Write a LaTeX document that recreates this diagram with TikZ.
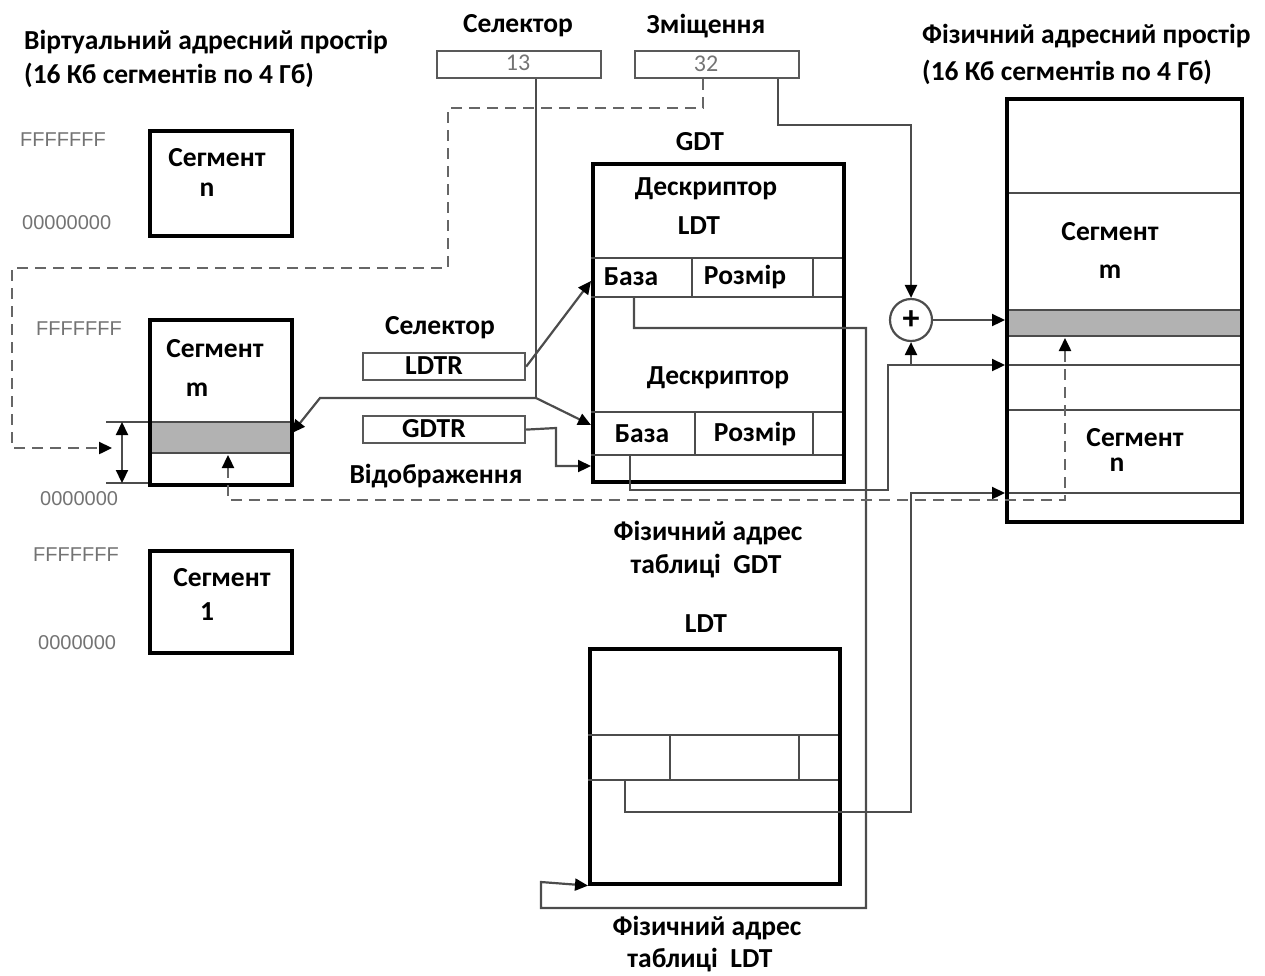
\documentclass[tikz,border=0pt]{standalone}
\usepackage{fontspec}
\setmainfont{Carlito}
\newfontfamily\addrfont{Liberation Sans}
\usetikzlibrary{arrows.meta}
\begin{document}
\begin{tikzpicture}[x=1pt,y=-1pt,
 lbl/.style={font=\bfseries\fontsize{27.5}{30}\selectfont, inner sep=0pt},
 addr/.style={font=\addrfont\fontsize{20}{22}\selectfont, text=black!55, inner sep=0pt, anchor=west},
 val/.style={font=\fontsize{24}{26}\selectfont, text=black!55, inner sep=0pt},
 bigbox/.style={draw, line width=3.6pt, inner sep=0pt, anchor=north west},
 regbox/.style={draw=black!65, line width=2.2pt, inner sep=0pt, anchor=north west},
 ln/.style={draw=black!70, line width=2.2pt},
 tip/.tip={Triangle[length=13pt,width=12pt,color=black]},
 arr/.style={ln, -tip},
 dsh/.style={draw=black!60, dash pattern=on 11pt off 7pt, line width=2.4pt},
 darr/.style={dsh, -tip},
]
\useasboundingbox (0,0) rectangle (1265,975);

% titles
\node[lbl, anchor=west] (vt1) at (24,42) {Віртуальний адресний простір};
\node[lbl, anchor=west] (vt2) at (24,75) {(16 Кб сегментів по 4 Гб)};
\node[lbl, anchor=west] (pt1) at (922,36) {Фізичний адресний простір};
\node[lbl, anchor=west] (pt2) at (922,72) {(16 Кб сегментів по 4 Гб)};

% selector / offset
\node[lbl] (selL) at (518,26) {Селектор};
\node[lbl] (offL) at (706,26) {Зміщення};
\node[regbox, minimum width=164pt, minimum height=27pt] (sel) at (436,50) {};
\node[val] (selv) at (518,63) {13};
\node[regbox, minimum width=164pt, minimum height=27pt] (off) at (634,50) {};
\node[val] (offv) at (706,64) {32};

% virtual segments
\node[bigbox, minimum width=142pt, minimum height=105pt] (segn) at (148,129) {};
\node[lbl] (segnA) at (217,158) {Сегмент};
\node[lbl] (segnB) at (207,190) {n};
\node[addr] (fn) at (20,140) {FFFFFFF};
\node[addr] (zn) at (22,223) {00000000};

\fill[black!30] (148,422) rectangle (290,453);
\draw[ln] (148,422) -- (290,422) (148,453) -- (290,453);
\node[bigbox, minimum width=142pt, minimum height=165pt] (segm) at (148,318) {};
\node[lbl] (segmA) at (215,349) {Сегмент};
\node[lbl] (segmB) at (197,390) {m};
\node[addr] (fm) at (36,329) {FFFFFFF};
\node[addr] (zm) at (40,499) {0000000};
\coordinate (bandE) at (292,433);
\coordinate (bandS) at (228,455);

\node[bigbox, minimum width=142pt, minimum height=102pt] (seg1) at (148,549) {};
\node[lbl] (seg1A) at (222,578) {Сегмент};
\node[lbl] (seg1B) at (207,612) {1};
\node[addr] (f1) at (33,555) {FFFFFFF};
\node[addr] (z1) at (38,643) {0000000};

% limits arrow
\draw[ln] (106,422) -- (148,422) (106,483) -- (148,483);
\draw[ln, tip-tip] (122,422) -- (122,483);

% registers
\node[lbl] (selR) at (440,328) {Селектор};
\node[regbox, minimum width=162pt, minimum height=27pt] (ldtr) at (362,352) {};
\node[lbl] (ldtrT) at (434,366) {LDTR};
\node[regbox, minimum width=162pt, minimum height=27pt] (gdtr) at (362,415) {};
\node[lbl] (gdtrT) at (434,429) {GDTR};
\node[lbl] (map) at (436,476) {Відображення};

% GDT
\node[lbl] (gdtL) at (700,142) {GDT};
\node[bigbox, minimum width=251pt, minimum height=318pt] (gdt) at (591,162) {};
\draw[ln] (591,258) -- (842,258) (591,297) -- (842,297) (692,258) -- (692,297) (813,258) -- (813,297);
\draw[ln] (591,412) -- (842,412) (591,455) -- (842,455) (695,412) -- (695,455) (813,412) -- (813,455);
\node[lbl] (d1a) at (706,189) {Дескриптор};
\node[lbl] (d1b) at (699,226) {LDT};
\node[lbl] (b1) at (631,277) {База};
\node[lbl] (r1) at (745,277) {Розмір};
\node[lbl] (d2) at (718,378) {Дескриптор};
\node[lbl] (b2) at (642,434) {База};
\node[lbl] (r2) at (755,434) {Розмір};
\coordinate (b1in) at (591,281);
\coordinate (b2in) at (591,425);
\coordinate (gdtin) at (591,466);
\coordinate (b1out) at (634,297);
\coordinate (b2out) at (630,455);

% LDT
\node[lbl] (ldtL) at (706,624) {LDT};
\node[bigbox, minimum width=250pt, minimum height=235pt] (ldt) at (588,647) {};
\draw[ln] (588,735) -- (838,735) (588,780) -- (838,780) (670,735) -- (670,780) (799,735) -- (799,780);
\coordinate (l1out) at (625,780);

% physical
\fill[black!30] (1005,310) rectangle (1240,336);
\draw[ln] (1005,193) -- (1240,193) (1005,310) -- (1240,310) (1005,336) -- (1240,336)
 (1005,365) -- (1240,365) (1005,410) -- (1240,410) (1005,493) -- (1240,493);
\node[bigbox, minimum width=235pt, minimum height=423pt] (phys) at (1005,97) {};
\node[lbl] (pmA) at (1110,232) {Сегмент};
\node[lbl] (pmB) at (1110,272) {m};
\node[lbl] (pnA) at (1135,438) {Сегмент};
\node[lbl] (pnB) at (1117,465) {n};
\coordinate (pband) at (1005,320);
\coordinate (pbase2) at (1005,365);
\coordinate (pbasel) at (1005,493);
\coordinate (pbandS) at (1065,338);

% adder
\node[draw=black!70, line width=2.2pt, circle, minimum size=42pt, inner sep=0pt,
 font=\bfseries\fontsize{34}{34}\selectfont] (plus) at (911,320) {+};

% connectors
\coordinate (J) at (536,398);
\draw[ln] (sel.south -| J) -- (J);
\draw[arr] (J) -- (320,398) -- (bandE);
\draw[arr] (J) -- (b2in);
\draw[arr] (ldtr.east) -- (b1in);
\draw[arr] (gdtr.east) -- (556,428) -- (556,466) -- (gdtin);
\draw[arr] (off.south -| 778,0) -- (778,125) -- (911,125) -- (plus.north);
\draw[arr] (plus.east) -- (pband);
\draw[arr] (b1out) -- (634,328) -- (866,328) -- (866,908) -- (541,908) -- (541,882) -- (ldt.south west);
\draw[arr] (b2out) -- (630,490) -- (888,490) -- (888,365) -- (pbase2);
\draw[arr] (911,365) -- (plus.south);
\draw[arr] (l1out) -- (625,812) -- (911,812) -- (911,493) -- (pbasel);

% dashed
\draw[darr] (off.south -| 703,0) -- (703,108) -- (448,108) -- (448,268) -- (12,268) -- (12,448) -- (112,448);
\draw[dsh, tip-tip] (bandS) -- (228,500) -- (1065,500) -- (pbandS);

% bottom labels
\node[lbl] (fa1) at (708,533) {Фізичний адрес};
\node[lbl] (fa2) at (706,566) {таблиці~~GDT};
\node[lbl] (fb1) at (707,928) {Фізичний адрес};
\node[lbl] (fb2) at (700,960) {таблиці~~LDT};
\end{tikzpicture}
\end{document}
